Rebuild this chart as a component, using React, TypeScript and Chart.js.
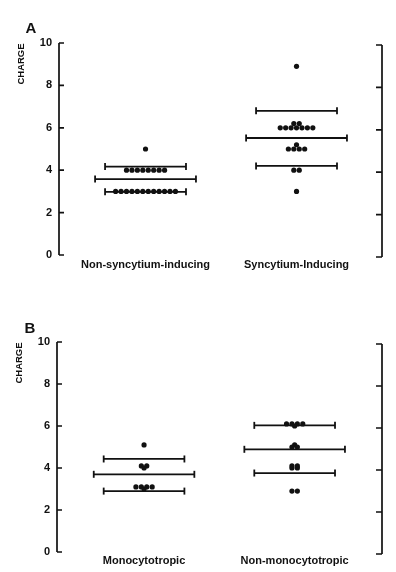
import React, { useEffect, useRef } from "react";
import { Chart, registerables } from "chart.js";
Chart.register(...registerables);

// ---------- data ----------
const yTicks = [0, 2, 4, 6, 8, 10];

const categoriesA = ["Non-syncytium-inducing", "Syncytium-Inducing"];
const nsiCharges = [5, 4, 4, 4, 4, 4, 4, 4, 4, 3, 3, 3, 3, 3, 3, 3, 3, 3, 3, 3, 3];
const siCharges = [8.9, 6.2, 6.2, 6, 6, 6, 6, 6, 6, 6, 5.2, 5, 5, 5, 5, 4, 4, 3];
const meanA = [3.58, 5.52];
const upperA = [4.17, 6.8];
const lowerA = [2.98, 4.2];

const categoriesB = ["Monocytotropic", "Non-monocytotropic"];
const monoCharges = [5.1, 4.1, 4.1, 4.0, 3.1, 3.1, 3.1, 3.1, 3.0];
const nonMonoCharges = [6.1, 6.1, 6.1, 6.1, 6.0, 5.1, 5.0, 5.0, 4.1, 4.1, 4.0, 4.0, 2.9, 2.9];
const meanB = [3.7, 4.89];
const upperB = [4.43, 6.03];
const lowerB = [2.9, 3.76];

const INK = "#111";
const FONT = '"Liberation Sans", Arial, Helvetica, sans-serif';

function swarm(values: number[], center: number, step: number) {
  const counts = new Map<number, number>();
  values.forEach((v) => counts.set(v, (counts.get(v) || 0) + 1));
  const seen = new Map<number, number>();
  return values.map((v) => {
    const n = counts.get(v)!;
    const i = seen.get(v) || 0;
    seen.set(v, i + 1);
    return { x: center + (i - (n - 1) / 2) * step, y: v };
  });
}

function barDs(c: number, y: number, hw: number) {
  return {
    data: [
      { x: c - hw, y },
      { x: c + hw, y },
    ],
    showLine: true,
    borderColor: INK,
    borderWidth: 1.8,
    pointStyle: "line",
    rotation: 90,
    pointRadius: 3.5,
    pointHoverRadius: 3.5,
    pointBorderWidth: 1.8,
    pointBorderColor: INK,
    pointBackgroundColor: INK,
    order: 2,
  };
}

const framePlugin = {
  id: "frame",
  afterDraw(chart: any, _args: any, opts: any) {
    const { ctx, chartArea, scales } = chart;
    const { left, right, top, bottom } = chartArea;
    const y = scales.y;
    const x = scales.x;
    ctx.save();
    ctx.strokeStyle = INK;
    ctx.lineWidth = 1.7;
    ctx.beginPath();
    ctx.moveTo(left, top);
    ctx.lineTo(left, bottom);
    yTicks.forEach((t) => {
      const py = y.getPixelForValue(t);
      ctx.moveTo(left, py);
      ctx.lineTo(left + 5, py);
    });
    ctx.moveTo(right, top + 2);
    ctx.lineTo(right, bottom + 2);
    yTicks.forEach((t) => {
      const py = y.getPixelForValue(t) + 2;
      ctx.moveTo(right, py);
      ctx.lineTo(right - 6, py);
    });
    ctx.stroke();

    ctx.fillStyle = INK;
    ctx.font = `bold 11px ${FONT}`;
    ctx.textAlign = "center";
    ctx.textBaseline = "middle";
    (opts.categories as string[]).forEach((c, i) => {
      ctx.fillText(c, x.getPixelForValue(i + 1), bottom + opts.labelGap);
    });

    ctx.font = `bold 15px ${FONT}`;
    ctx.fillText(opts.letter, opts.letterX, top - opts.letterUp);

    ctx.translate(opts.titleX, top + 21);
    ctx.rotate(-Math.PI / 2);
    ctx.font = `bold 9.5px ${FONT}`;
    ctx.fillText("CHARGE", 0, 0);
    ctx.restore();
  },
};

type PanelProps = {
  groups: number[][];
  means: number[];
  uppers: number[];
  lowers: number[];
  categories: string[];
  letter: string;
  top: number;
  padTop: number;
  padBottom: number;
  axisX: number;
  xMin: number;
  xMax: number;
  letterX: number;
  letterUp: number;
  titleX: number;
  labelGap: number;
};

function Panel(p: PanelProps) {
  const ref = useRef<HTMLCanvasElement | null>(null);
  useEffect(() => {
    if (!ref.current) return;
    const step = 0.036;
    const datasets: any[] = [];
    p.groups.forEach((g, i) => {
      const c = i + 1;
      datasets.push({
        data: swarm(g, c, step),
        pointRadius: 2.6,
        pointHoverRadius: 2.6,
        pointBackgroundColor: INK,
        pointBorderWidth: 0,
        showLine: false,
        order: 1,
      });
      datasets.push(barDs(c, p.uppers[i], 0.268));
      datasets.push(barDs(c, p.means[i], 0.334));
      datasets.push(barDs(c, p.lowers[i], 0.268));
    });
    const chart = new Chart(ref.current, {
      type: "scatter",
      data: { datasets },
      options: {
        animation: false,
        responsive: false,
        devicePixelRatio: 1,
        layout: { padding: { top: p.padTop, bottom: p.padBottom, right: 14, left: 0 } },
        plugins: {
          legend: { display: false },
          tooltip: { enabled: false },
          frame: {
            categories: p.categories,
            letter: p.letter,
            letterX: p.letterX,
            letterUp: p.letterUp,
            titleX: p.titleX,
            labelGap: p.labelGap,
          },
        } as any,
        scales: {
          x: { type: "linear", display: false, min: p.xMin, max: p.xMax },
          y: {
            type: "linear",
            min: 0,
            max: 10,
            afterFit: (s: any) => {
              s.width = p.axisX;
            },
            afterBuildTicks: (s: any) => {
              s.ticks = yTicks.map((v) => ({ value: v }));
            },
            grid: { display: false, drawTicks: false },
            border: { display: false },
            ticks: {
              padding: 7,
              color: INK,
              font: { family: FONT, size: 11, weight: "bold" },
            },
          },
        },
      },
      plugins: [framePlugin],
    } as any);
    return () => chart.destroy();
  }, []);
  return (
    <div style={{ position: "absolute", left: 0, top: p.top, width: 396, height: 286 }}>
      <canvas ref={ref} width={396} height={286} style={{ width: 396, height: 286, display: "block" }} />
    </div>
  );
}

export default function App() {
  return (
    <div style={{ position: "absolute", left: 0, top: 0, width: 396, height: 572, background: "#fff" }}>
      <Panel
        groups={[nsiCharges, siCharges]}
        means={meanA}
        uppers={upperA}
        lowers={lowerA}
        categories={categoriesA}
        letter="A"
        top={0}
        padTop={43}
        padBottom={31}
        axisX={59}
        xMin={0.427}
        xMax={2.566}
        letterX={31}
        letterUp={14}
        titleX={21}
        labelGap={10}
      />
      <Panel
        groups={[monoCharges, nonMonoCharges]}
        means={meanB}
        uppers={upperB}
        lowers={lowerB}
        categories={categoriesB}
        letter="B"
        top={286}
        padTop={56}
        padBottom={20}
        axisX={57}
        xMin={0.422}
        xMax={2.58}
        letterX={30}
        letterUp={13}
        titleX={19}
        labelGap={9}
      />
    </div>
  );
}
